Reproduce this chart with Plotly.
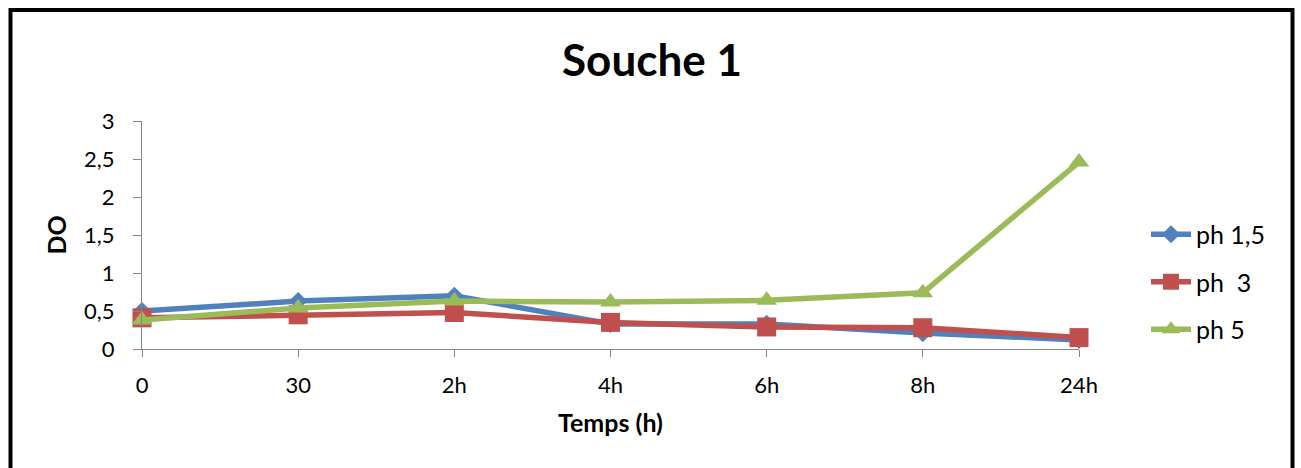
import plotly.graph_objects as go

categories = ["0", "30", "2h", "4h", "6h", "8h", "24h"]
ph_1_5 = [0.50, 0.63, 0.70, 0.33, 0.33, 0.21, 0.12]
ph_3 = [0.41, 0.45, 0.48, 0.35, 0.29, 0.28, 0.15]
ph_5 = [0.38, 0.54, 0.63, 0.62, 0.64, 0.74, 2.46]
series_names = ["ph 1,5", "ph  3", "ph 5"]
y_ticks = [0, 0.5, 1, 1.5, 2, 2.5, 3]

W, H = 1301, 468
L, R, T, B = 142, 1079, 121, 349  # plot area pixels

def px_x(p):
    return (p - L) / (R - L)

def px_y(p):
    return (B - p) / (B - T)

FONT = "Lato"
colors = ["#4F81BD", "#C0504D", "#9BBB59"]
symbols = ["diamond", "square", "triangle-up"]
sizes = [14, 19, 18]
data = [ph_1_5, ph_3, ph_5]

fig = go.Figure()
for i, (name, vals) in enumerate(zip(series_names, data)):
    fig.add_trace(go.Scatter(
        x=categories, y=vals, name=name, mode="lines+markers",
        line=dict(color=colors[i], width=5.5),
        marker=dict(symbol=symbols[i], size=sizes[i], color=colors[i]),
        cliponaxis=False, legendgroup=name,
    ))

fig.update_layout(
    width=W, height=H,
    margin=dict(l=L, r=W - R, t=T, b=H - B, pad=0),
    paper_bgcolor="white", plot_bgcolor="white",
    separators=", ",
    font=dict(family=FONT, size=22, color="black"),
    title=dict(text="<b>Souche 1</b>", font=dict(family=FONT, size=44, color="black"),
               x=px_x(652), xref="paper", xanchor="center",
               y=1 - 61 / H, yref="container", yanchor="middle"),
    showlegend=True,
    legend=dict(x=px_x(1146), xanchor="left", y=px_y(282), yanchor="middle",
                font=dict(family=FONT, size=25, color="black"),
                traceorder="grouped", tracegroupgap=12, bgcolor="rgba(0,0,0,0)",
                itemwidth=40),
    shapes=[dict(type="rect", xref="paper", yref="paper",
                 x0=px_x(10.5), x1=px_x(1292.5), y0=px_y(10), y1=px_y(490),
                 line=dict(color="black", width=4), fillcolor="rgba(0,0,0,0)", layer="above")],
)

fig.update_xaxes(
    type="category", range=[0, len(categories) - 1],
    showline=True, linecolor="#868686", linewidth=1.3,
    ticks="outside", ticklen=7, tickcolor="#868686", tickwidth=1.3,
    showgrid=False, zeroline=False, ticklabelstandoff=9,
    tickfont=dict(family=FONT, size=22, color="black"),
    title=dict(text="<b>Temps (h)</b>", font=dict(family=FONT, size=25, color="black"), standoff=17),
)
fig.update_yaxes(
    range=[0, 3], tickvals=y_ticks, tickformat=".1~f",
    showline=True, linecolor="#868686", linewidth=1.3,
    ticks="outside", ticklen=8, tickcolor="#868686", tickwidth=1.3,
    showgrid=False, zeroline=False, ticklabelstandoff=14,
    tickfont=dict(family=FONT, size=22, color="black"),
    title=dict(text="<b>DO</b>", font=dict(family=FONT, size=25, color="black"), standoff=10),
)

fig.write_html("out.html")
